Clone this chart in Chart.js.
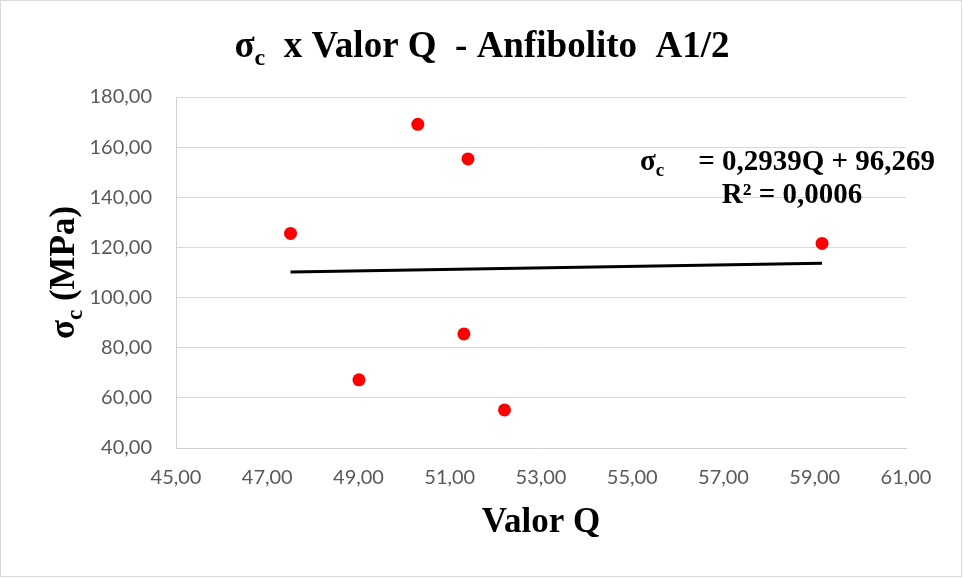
<!DOCTYPE html>
<html>
<head>
<meta charset="utf-8">
<script src="https://cdn.jsdelivr.net/npm/chart.js@4/dist/chart.umd.min.js"></script>
<style>
  html, body { margin: 0; padding: 0; background: #ffffff; }
  #wrap { width: 963px; height: 578px; }
</style>
</head>
<body>
<div id="wrap"><canvas id="c" width="963" height="578"></canvas></div>
<script>
// ---- Data ----
const valorQ = [47.51, 49.01, 50.30, 51.40, 51.31, 52.20, 59.16];
const sigmaC = [125.6, 67.2, 169.1, 155.3, 85.5, 55.2, 121.6];
// Trendline as printed on the chart
const trendSlope = 0.2939;
const trendIntercept = 96.269;
const equationText = "= 0,2939Q + 96,269";
const r2Text = "R² = 0,0006";
// Axis ranges / tick steps
const xMin = 45, xMax = 61, xStep = 2;
const yMin = 40, yMax = 180, yStep = 20;

const qLo = Math.min(...valorQ), qHi = Math.max(...valorQ);
const trendPoints = [
  { x: qLo, y: trendSlope * qLo + trendIntercept },
  { x: qHi, y: trendSlope * qHi + trendIntercept }
];
const scatterPoints = valorQ.map((q, i) => ({ x: q, y: sigmaC[i] }));

const fmt = v => Number(v).toFixed(2).replace('.', ',');
const SERIF = '"Liberation Serif", "Times New Roman", serif';

function measureParts(ctx, parts, size) {
  let w = 0;
  for (const [t, sub] of parts) {
    ctx.font = 'bold ' + (sub ? Math.round(size * 0.65) : size) + 'px ' + SERIF;
    w += ctx.measureText(t).width;
  }
  return w;
}
function drawParts(ctx, parts, size, x, y) {
  let cx = x;
  ctx.textAlign = 'left';
  ctx.textBaseline = 'alphabetic';
  for (const [t, sub] of parts) {
    ctx.font = 'bold ' + (sub ? Math.round(size * 0.65) : size) + 'px ' + SERIF;
    ctx.fillText(t, cx, sub ? y + size * 0.22 : y);
    cx += ctx.measureText(t).width;
  }
}

const decorPlugin = {
  id: 'decor',
  afterDraw(chart) {
    const ctx = chart.ctx;
    const area = chart.chartArea;
    ctx.save();
    ctx.fillStyle = '#000000';
    // Title
    const tParts = [['σ', false], ['c', true], ['  x Valor Q  - Anfibolito  A1/2', false]];
    const tSize = 37;
    const tw = measureParts(ctx, tParts, tSize);
    drawParts(ctx, tParts, tSize, 482 - tw / 2, 57);

    // X axis title
    const xs = 35;
    ctx.font = 'bold ' + xs + 'px ' + SERIF;
    ctx.textAlign = 'center';
    ctx.textBaseline = 'alphabetic';
    ctx.fillText('Valor Q', (area.left + area.right) / 2, 532);

    // Y axis title (rotated)
    const yParts = [['σ', false], ['c', true], [' (MPa)', false]];
    const ys = 35;
    const yw = measureParts(ctx, yParts, ys);
    ctx.save();
    ctx.translate(74, (area.top + area.bottom) / 2);
    ctx.rotate(-Math.PI / 2);
    drawParts(ctx, yParts, ys, -yw / 2, 0);
    ctx.restore();

    // Equation
    const es = 29;
    drawParts(ctx, [['σ', false], ['c', true]], es, 640, 170);
    ctx.font = 'bold ' + es + 'px ' + SERIF;
    ctx.textAlign = 'right';
    ctx.fillText(equationText, 935, 170);
    ctx.textAlign = 'center';
    ctx.fillText(r2Text, 792, 203);

    // outer border
    ctx.strokeStyle = '#d9d9d9';
    ctx.lineWidth = 1;
    ctx.strokeRect(0.5, 0.5, 961, 576);
    ctx.restore();
  }
};

new Chart(document.getElementById('c'), {
  type: 'scatter',
  data: {
    datasets: [
      {
        label: 'Pontos',
        data: scatterPoints,
        backgroundColor: '#ff0000',
        borderWidth: 0,
        pointRadius: 6.5,
        pointHoverRadius: 6.5,
        order: 1
      },
      {
        label: 'Tendência',
        type: 'line',
        data: trendPoints,
        borderColor: '#000000',
        borderWidth: 3,
        pointRadius: 0,
        fill: false,
        order: 2
      }
    ]
  },
  options: {
    responsive: false,
    animation: false,
    devicePixelRatio: 1,
    layout: { padding: { left: 0, top: 97, right: 57, bottom: 0 } },
    plugins: {
      legend: { display: false },
      title: { display: false },
      tooltip: { enabled: false }
    },
    scales: {
      x: {
        type: 'linear',
        min: xMin, max: xMax,
        afterFit(scale) { scale.height = 130; },
        grid: { display: false, drawTicks: false },
        border: { display: true, color: '#d0d0d0', width: 1 },
        ticks: {
          stepSize: xStep,
          padding: 18,
          color: '#595959',
          font: { family: 'Lato, "Liberation Sans", sans-serif', size: 20 },
          callback: v => fmt(v),
          maxRotation: 0
        }
      },
      y: {
        type: 'linear',
        min: yMin, max: yMax,
        afterFit(scale) { scale.width = 176; },
        grid: { color: '#d9d9d9', lineWidth: 1, drawTicks: false },
        border: { display: true, color: '#d0d0d0', width: 1 },
        ticks: {
          stepSize: yStep,
          padding: 24,
          color: '#595959',
          font: { family: 'Lato, "Liberation Sans", sans-serif', size: 20 },
          callback: v => fmt(v)
        }
      }
    }
  },
  plugins: [decorPlugin]
});
</script>
</body>
</html>
